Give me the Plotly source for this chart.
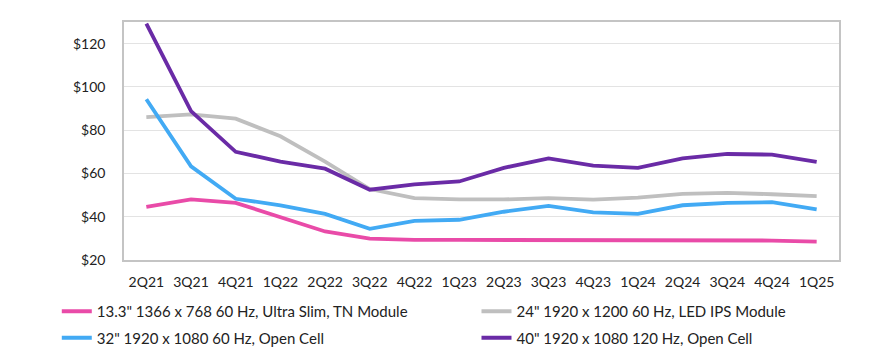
import plotly.graph_objects as go

quarters = ["2Q21", "3Q21", "4Q21", "1Q22", "2Q22", "3Q22", "4Q22", "1Q23",
            "2Q23", "3Q23", "4Q23", "1Q24", "2Q24", "3Q24", "4Q24", "1Q25"]

tn_133 = [44.6, 48.0, 46.4, 40.0, 33.2, 29.9, 29.3, 29.3,
          29.3, 29.3, 29.3, 29.3, 29.3, 29.3, 29.0, 28.5]
ips_24 = [86.0, 87.3, 85.3, 77.2, 65.5, 52.8, 48.6, 48.0,
          48.0, 48.6, 47.9, 48.8, 50.6, 51.0, 50.4, 49.5]
oc_32 = [94.3, 63.3, 48.3, 45.3, 41.3, 34.4, 38.1, 38.6,
         42.3, 45.0, 42.0, 41.3, 45.3, 46.4, 46.7, 43.4]
oc_40 = [129.2, 88.8, 70.0, 65.5, 62.2, 52.5, 55.0, 56.3,
         62.6, 67.0, 63.6, 62.6, 67.0, 69.0, 68.7, 65.3]

names = ['13.3" 1366 x 768 60 Hz, Ultra Slim, TN Module',
         '24" 1920 x 1200 60 Hz, LED IPS Module',
         '32" 1920 x 1080 60 Hz, Open Cell',
         '40" 1920 x 1080 120 Hz, Open Cell']
colors = ["#E94BA8", "#BFBFBF", "#42AAF4", "#6A2BA6"]
series = [tn_133, ips_24, oc_32, oc_40]
legend_ids = ["legend", "legend2", "legend", "legend2"]

fig = go.Figure()
for i, (nm, col, vals, lg) in enumerate(zip(names, colors, series, legend_ids)):
    fig.add_trace(go.Scatter(x=quarters, y=vals, name=nm, mode="lines",
                             line=dict(color=col, width=3.8),
                             legend=lg, legendgroup=f"g{i}"))

font = "Lato, 'Open Sans', sans-serif"
leg_common = dict(orientation="v", xanchor="left", yanchor="top", y=-0.147,
                  font=dict(family=font, size=15, color="#222222"),
                  tracegroupgap=4, bgcolor="rgba(0,0,0,0)")
fig.update_layout(
    width=872, height=358,
    margin=dict(l=116, r=41, t=14, b=100),
    paper_bgcolor="white", plot_bgcolor="white",
    font=dict(family=font, size=14, color="#222222"),
    showlegend=True,
    legend=dict(x=-0.094, **leg_common),
    legend2=dict(x=0.493, **leg_common),
    xaxis=dict(range=[-0.5, 15.5], showgrid=False, showline=True, linecolor="#C4C4C4",
               linewidth=1.5, mirror=True, ticks="", ticklabelstandoff=8,
               tickfont=dict(size=14)),
    yaxis=dict(range=[20, 130], tickvals=[20, 40, 60, 80, 100, 120],
               ticktext=["$20", "$40", "$60", "$80", "$100", "$120"],
               showgrid=True, gridcolor="#E3E3E3", gridwidth=1.2,
               showline=True, linecolor="#C4C4C4", linewidth=1.5, mirror=True,
               ticks="", ticklabelstandoff=14, zeroline=False, tickfont=dict(size=14)),
)

fig.write_html("out.html")
